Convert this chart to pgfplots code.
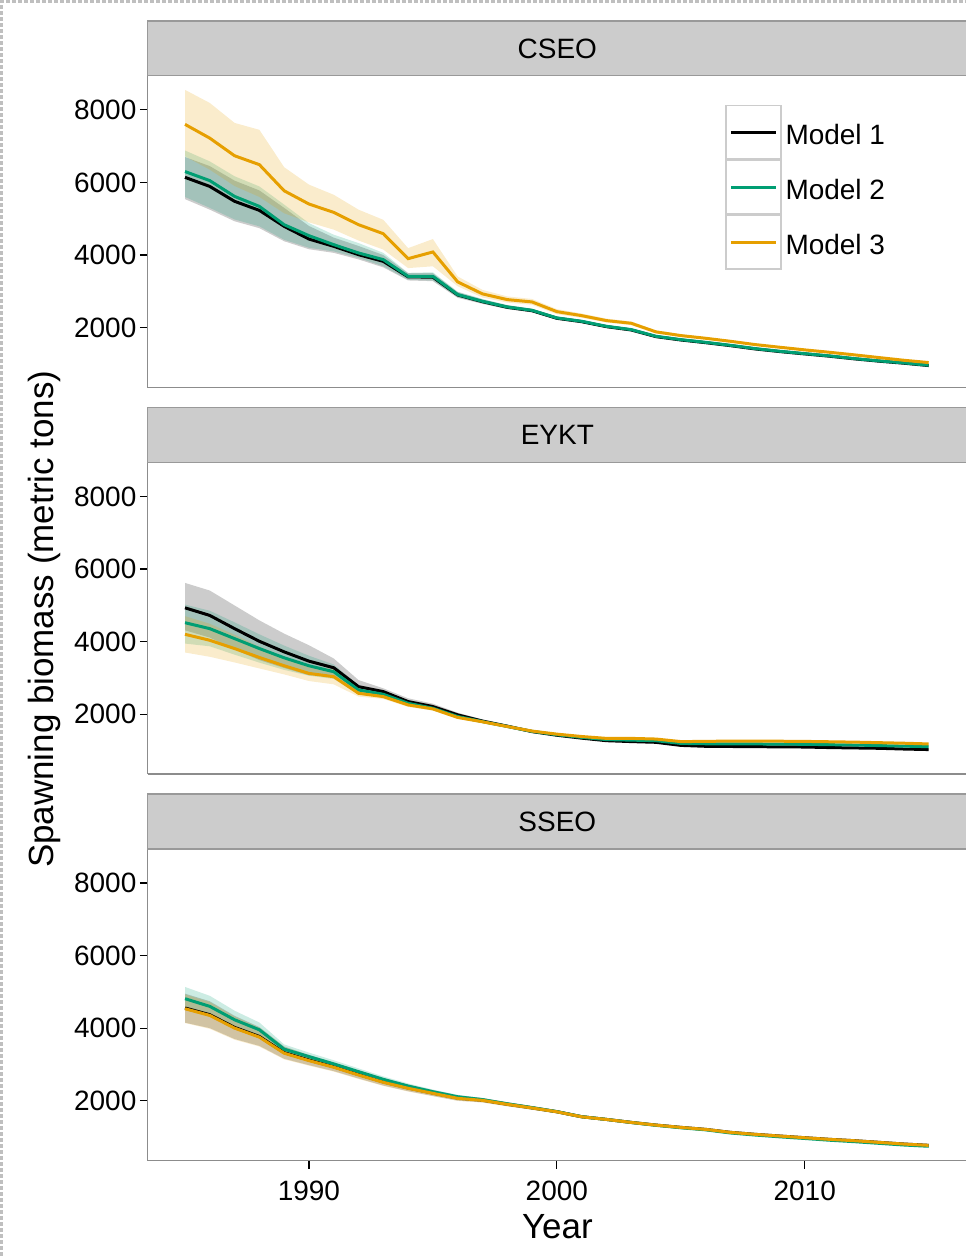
\documentclass[border=0pt]{standalone}
\usepackage{pgfplots}
\pgfplotsset{compat=1.18}
\usepackage{pgfplotstable}
\usepgfplotslibrary{fillbetween}
\usepackage{fontspec}
\setmainfont{Liberation Sans}
\definecolor{mgreen}{HTML}{009E73}
\definecolor{morange}{HTML}{E69F00}
\newcommand{\tickfont}{\fontsize{28}{28}\selectfont}
\newcommand{\titlefont}{\fontsize{35}{35}\selectfont}

\pgfplotstableread{
year m1 m1lo m1hi m2 m2lo m2hi m3 m3lo m3hi
1985 6140 5540 6700 6300 5600 6880 7600 6720 8550
1986 5890 5250 6450 6050 5300 6580 7220 6350 8190
1987 5480 4930 6050 5615 4980 6170 6735 5900 7640
1988 5230 4740 5780 5340 4790 5890 6490 5600 7450
1989 4790 4380 5300 4836 4420 5390 5770 5150 6420
1990 4440 4160 4800 4533 4200 4880 5405 4900 5940
1991 4240 4060 4480 4286 4100 4560 5175 4700 5660
1992 4010 3880 4250 4057 3920 4330 4836 4400 5250
1993 3826 3660 4000 3873 3690 4060 4588 4150 4970
1994 3400 3300 3500 3413 3320 3510 3900 3640 4190
1995 3390 3280 3500 3413 3300 3525 4085 3690 4440
1996 2900 2820 2980 2910 2840 2990 3260 3140 3410
1997 2715 2655 2780 2725 2670 2790 2930 2830 3040
1998 2560 2510 2615 2570 2520 2625 2772 2690 2860
1999 2467 2420 2515 2477 2430 2525 2708 2630 2790
2000 2258 2215 2302 2268 2225 2312 2441 2370 2510
2001 2165 2125 2205 2175 2135 2215 2331 2270 2390
2002 2027 1990 2065 2037 2000 2075 2194 2140 2250
2003 1936 1902 1972 1946 1912 1982 2120 2070 2170
2004 1752 1720 1785 1762 1730 1795 1883 1840 1925
2005 1660 1630 1690 1670 1640 1700 1781 1745 1820
2006 1586 1558 1615 1596 1568 1625 1707 1672 1742
2007 1504 1478 1530 1514 1488 1540 1624 1592 1656
2008 1413 1388 1438 1423 1398 1448 1533 1503 1563
2009 1340 1317 1362 1349 1327 1372 1459 1431 1487
2010 1276 1254 1296 1285 1264 1306 1387 1361 1413
2011 1213 1193 1232 1222 1203 1242 1321 1297 1345
2012 1140 1122 1158 1148 1130 1166 1250 1228 1272
2013 1076 1059 1093 1084 1067 1101 1175 1155 1195
2014 1020 1004 1036 1029 1013 1045 1101 1083 1119
2015 955 940 970 963 948 978 1038 1021 1055
}\cseo

\pgfplotstableread{
year m1 m1lo m1hi m2 m2lo m2hi m3 m3lo m3hi
1985 4930 4310 5616 4520 3945 5020 4200 3699 4700
1986 4720 4110 5406 4356 3870 4850 4036 3581 4490
1987 4356 3780 4995 4082 3640 4530 3808 3425 4190
1988 4008 3490 4584 3808 3420 4200 3562 3260 3860
1989 3717 3270 4219 3553 3220 3890 3334 3096 3570
1990 3461 3070 3899 3334 3060 3610 3123 2913 3330
1991 3279 3050 3534 3169 2970 3370 3032 2822 3240
1992 2758 2590 2940 2667 2550 2790 2575 2485 2665
1993 2621 2540 2712 2548 2460 2640 2484 2420 2550
1994 2347 2260 2438 2301 2230 2370 2255 2200 2310
1995 2210 2140 2290 2164 2105 2225 2146 2100 2190
1996 1981 1925 2040 1936 1885 1985 1910 1870 1950
1997 1810 1765 1855 1795 1755 1835 1790 1755 1825
1998 1670 1630 1710 1662 1625 1700 1660 1628 1692
1999 1520 1485 1555 1526 1492 1560 1535 1505 1565
2000 1420 1388 1452 1434 1403 1465 1450 1422 1478
2001 1340 1310 1370 1361 1332 1390 1385 1358 1412
2002 1270 1242 1298 1300 1273 1327 1333 1307 1359
2003 1245 1218 1272 1285 1259 1311 1333 1308 1358
2004 1225 1199 1251 1270 1245 1295 1315 1291 1339
2005 1140 1115 1165 1195 1171 1219 1245 1222 1268
2006 1115 1091 1139 1185 1162 1208 1250 1228 1272
2007 1110 1087 1133 1185 1163 1207 1260 1239 1281
2008 1105 1083 1127 1180 1159 1201 1260 1240 1280
2009 1100 1079 1121 1175 1155 1195 1255 1236 1274
2010 1095 1075 1115 1170 1151 1189 1250 1232 1268
2011 1080 1061 1099 1160 1142 1178 1240 1223 1257
2012 1070 1052 1088 1150 1133 1167 1230 1214 1246
2013 1060 1043 1077 1135 1119 1151 1215 1200 1230
2014 1040 1024 1056 1120 1105 1135 1200 1186 1214
2015 1025 1010 1040 1105 1091 1119 1180 1167 1193
}\eykt

\pgfplotstableread{
year m1 m1lo m1hi m2 m2lo m2hi m3 m3lo m3hi
1985 4555 4150 4950 4811 4500 5134 4534 4139 4930
1986 4370 4000 4740 4599 4310 4890 4350 3980 4720
1987 4020 3700 4340 4230 3980 4480 4000 3680 4320
1988 3770 3510 4030 3954 3755 4155 3752 3492 4012
1989 3325 3155 3495 3420 3290 3550 3309 3139 3479
1990 3120 2980 3260 3216 3106 3326 3105 2965 3245
1991 2935 2815 3055 3014 2914 3114 2922 2802 3042
1992 2722 2612 2832 2801 2711 2891 2709 2599 2819
1993 2518 2418 2618 2589 2509 2669 2507 2407 2607
1994 2352 2262 2442 2405 2335 2475 2342 2252 2432
1995 2210 2130 2290 2248 2188 2308 2203 2123 2283
1996 2072 2002 2142 2110 2058 2162 2065 1995 2135
1997 2015 1955 2075 2030 1985 2075 2010 1950 2070
1998 1904 1849 1959 1915 1873 1957 1900 1845 1955
1999 1803 1753 1853 1810 1771 1849 1800 1750 1850
2000 1697 1652 1742 1700 1664 1736 1695 1650 1740
2001 1559 1517 1601 1560 1526 1594 1557 1515 1599
2002 1485 1446 1524 1485 1453 1517 1484 1445 1523
2003 1403 1367 1439 1400 1370 1430 1402 1366 1438
2004 1329 1295 1363 1322 1294 1350 1328 1294 1362
2005 1266 1234 1298 1255 1229 1281 1265 1233 1297
2006 1211 1181 1241 1198 1173 1223 1210 1180 1240
2007 1129 1101 1157 1112 1089 1135 1128 1100 1156
2008 1074 1047 1101 1055 1033 1077 1073 1046 1100
2009 1027 1001 1053 1005 984 1026 1026 1000 1052
2010 981 956 1006 960 940 980 980 955 1005
2011 936 912 960 912 893 931 935 911 959
2012 899 876 922 872 854 890 898 875 921
2013 853 831 875 826 809 843 852 830 874
2014 807 786 828 780 764 796 806 785 827
2015 771 751 791 745 730 760 770 750 790
}\sseo

\pgfplotsset{panel/.style={
  scale only axis, width=819pt, height=312pt,
  xmin=1983.5, xmax=2016.5, ymin=350, ymax=8935,
  axis x line=bottom, axis y line=left,
  axis line style={-, draw=black!45, line width=1.2pt},
  tick align=outside, major tick length=8pt,
  tick style={black, line width=1.2pt},
  ytick={2000,4000,6000,8000},
  xtick={1990,2000,2010},
  ticklabel style={font=\tickfont},
  xticklabel style={yshift=-9pt},
  /pgf/number format/set thousands separator={},
  /pgf/number format/assume math mode=true,
  anchor=south west,
}}

\newcommand{\drawpanel}[1]{%
  \addplot[black, line width=3pt] table[x=year,y=m1]{#1};
  \addplot[mgreen, line width=3pt] table[x=year,y=m2]{#1};
  \addplot[morange, line width=3pt] table[x=year,y=m3]{#1};
  \addplot[name path=al, draw=none, forget plot] table[x=year,y=m1lo]{#1};
  \addplot[name path=ah, draw=none, forget plot] table[x=year,y=m1hi]{#1};
  \addplot[fill=black, fill opacity=0.2, draw=none, forget plot, on layer=main] fill between[of=al and ah];
  \addplot[name path=bl, draw=none, forget plot] table[x=year,y=m2lo]{#1};
  \addplot[name path=bh, draw=none, forget plot] table[x=year,y=m2hi]{#1};
  \addplot[fill=mgreen, fill opacity=0.2, draw=none, forget plot, on layer=main] fill between[of=bl and bh];
  \addplot[name path=cl, draw=none, forget plot] table[x=year,y=m3lo]{#1};
  \addplot[name path=ch, draw=none, forget plot] table[x=year,y=m3hi]{#1};
  \addplot[fill=morange, fill opacity=0.2, draw=none, forget plot, on layer=main] fill between[of=cl and ch];
}

\begin{document}
\begin{tikzpicture}

% panel 1: CSEO
\begin{axis}[panel, at={(148pt,869pt)}, xtick=\empty,
  legend cell align=left,
  legend style={at={(0.7057,0.9071)}, anchor=north west, draw=none, fill=none,
    inner sep=0pt, outer sep=0pt, row sep=0pt, column sep=0pt,
    font=\tickfont, nodes={inner sep=0pt}},
  legend image code/.code={
    \draw[black!20, line width=1.5pt, fill=white, solid] (0pt,-24.25pt) rectangle (55pt,29.25pt);
    \draw[#1, line width=3pt] (5pt,2.5pt) -- (50pt,2.5pt);
  }]
\drawpanel{\cseo}
\legend{\hspace{4pt}Model 1,\hspace{4pt}Model 2,\hspace{4pt}Model 3}
\end{axis}

% panel 2: EYKT
\begin{axis}[panel, at={(148pt,482pt)}, xtick=\empty]
\drawpanel{\eykt}
\end{axis}

% panel 3: SSEO
\begin{axis}[panel, at={(148pt,95pt)}]
\drawpanel{\sseo}
\end{axis}

% strips
\foreach \yb/\lab in {1181/CSEO, 794/EYKT, 407/SSEO}{
  \fill[black!20] (148pt,\yb pt) rectangle (967pt,\yb pt+55pt);
  \draw[black!40, line width=1.2pt] (967pt,\yb pt+55pt) -- (148pt,\yb pt+55pt) -- (148pt,\yb pt) -- (967pt,\yb pt);
  \node[font=\tickfont] at (558pt,\yb pt+27.5pt) {\lab};
}

% axis titles
\node[font=\titlefont, rotate=90] at (45pt,637pt) {Spawning biomass (metric tons)};
\node[font=\titlefont] at (558pt,29pt) {Year};

% outer dashed frame
\draw[black!25, line width=3pt, dash pattern=on 4pt off 2pt] (1.5pt,0pt) -- (1.5pt,1255.5pt) -- (967pt,1255.5pt);
\path (0pt,0pt) rectangle (967pt,1257pt);
\end{tikzpicture}
\end{document}
